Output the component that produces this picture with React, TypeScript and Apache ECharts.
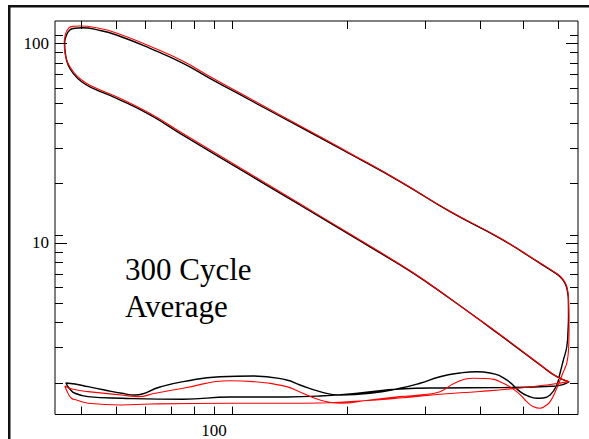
import React, { useEffect, useRef } from 'react';
import * as echarts from 'echarts';

// Axis ranges (log-log)
const X_MIN = 43.7;
const X_MAX = 666;
const Y_MIN = 1.384;
const Y_MAX = 129.3;

// Tick values
const X_MINOR_TICKS = [50, 60, 70, 80, 90, 110, 200, 300, 400, 500, 600];
const X_MAJOR_TICKS = [100];
const Y_MINOR_TICKS = [2, 3, 4, 5, 6, 7, 8, 9, 11, 20, 30, 40, 50, 60, 70, 80, 90, 110];
const Y_MAJOR_TICKS = [10, 100];

// Black curve (volume, pressure), one full cycle starting at BDC
const blackVolume = [
  635.7, 596.3, 546.7, 510.0, 443.7, 379.6, 297.6, 263.6, 203.2, 156.5, 120.6, 83.8, 71.7, 60.2, 53.3, 50.2, 48.05, 46.8, 46.17, 45.94, 46.25, 47.2, 48.5, 50.2,
  55.3, 60.2, 71.7, 85.2, 97.9, 120.6, 156.5, 203.2, 263.6, 342.0, 443.7, 546.7, 591.0, 606.6, 622.6, 630.8, 633.4, 633.9, 632.4, 628.1, 617.2, 606.6,
  596.3, 575.9, 555.3, 537.3, 513.4, 492.4, 459.4, 421.2, 393.0, 360.3, 324.6, 292.5, 263.6, 225.4, 192.8, 173.7, 156.5, 146.0, 122.7, 103.2, 85.2, 75.5, 66.3, 61.8, 56.6, 51.9, 48.5, 46.25,
  47.2, 48.5, 51.9, 61.8, 85.2, 108.7, 146.0, 173.7, 214.0, 263.6, 324.6, 443.7, 596.3, 635.7,
];
const blackPressure = [
  2.014, 2.14, 2.449, 2.749, 3.461, 4.46, 6.53, 7.76, 10.97, 15.5, 21.85, 35.4, 43.8, 53.0, 59.5, 64.2, 70.7, 77.8, 87.4, 100, 107.9, 116.6, 118.9, 119.7,
  115.9, 110.0, 94.4, 79.4, 66.8, 52.0, 38.1, 27.9, 20.3, 14.34, 10.55, 7.91, 7.08, 6.78, 6.28, 5.68, 5.18, 4.36, 3.667, 3.014, 2.595, 2.233,
  1.945, 1.734, 1.675, 1.669, 1.713, 1.801, 2.061, 2.233, 2.266, 2.233, 2.14, 1.984, 1.873, 1.768, 1.734, 1.801, 1.945, 2.061, 2.158, 2.14, 2.021, 1.901, 1.734, 1.768, 1.836, 1.908, 1.968, 1.991,
  1.858, 1.768, 1.7, 1.669, 1.65, 1.694, 1.694, 1.713, 1.774, 1.858, 1.879, 1.886, 1.923, 2.014,
];

// Red curve (volume, pressure), one full cycle starting at BDC
const redVolume = [
  636.5, 596.3, 546.7, 510.0, 443.7, 379.6, 297.6, 263.6, 203.2, 156.5, 120.6, 83.8, 71.7, 60.2, 53.3, 50.2, 48.05, 46.73, 46.09, 45.85, 46.09, 46.98, 48.24, 49.76,
  55.3, 60.2, 71.7, 85.2, 97.9, 120.6, 156.5, 203.2, 263.6, 342.0, 443.7, 546.7, 591.0, 606.6, 622.6, 630.8, 633.9, 635.7, 633.9, 629.1, 622.6, 617.2,
  596.3, 575.9, 561.1, 546.7, 527.0, 510.0, 484.0, 443.7, 410.4, 386.2, 351.0, 324.6, 292.5, 263.6, 225.4, 192.8, 173.7, 156.5, 146.0, 122.7, 108.7, 85.2, 73.56, 67.4, 61.8, 51.9, 47.72, 46.0,
  46.73, 47.6, 48.9, 51.9, 61.8, 71.7, 108.7, 146.0, 173.7, 214.0, 263.6, 324.6, 399.9, 492.4, 575.9, 636.5,
];
const redPressure = [
  2.021, 2.145, 2.464, 2.765, 3.481, 4.46, 6.565, 7.82, 11.09, 15.72, 22.21, 36.05, 44.5, 53.96, 60.56, 65.5, 72.25, 79.7, 88.4, 100.3, 110.0, 119.3, 121.7, 122.1,
  118.6, 112.6, 96.6, 81.3, 68.2, 52.9, 38.63, 28.17, 20.39, 14.42, 10.59, 7.94, 7.12, 6.82, 6.34, 5.815, 5.18, 3.667, 2.912, 2.536, 2.366, 2.266,
  1.873, 1.605, 1.527, 1.487, 1.518, 1.605, 1.801, 2.021, 2.096, 2.101, 1.991, 1.801, 1.734, 1.7, 1.636, 1.575, 1.636, 1.794, 1.908, 2.021, 2.044, 1.873, 1.768, 1.7, 1.734, 1.801, 1.858, 1.923,
  1.774, 1.669, 1.636, 1.575, 1.545, 1.563, 1.575, 1.575, 1.581, 1.618, 1.675, 1.748, 1.805, 1.879, 1.957, 2.021,
];

const SERIF = "Liberation Serif, Times New Roman, serif";

const isPow10 = (v: number) => {
  const l = Math.log10(v);
  return Math.abs(l - Math.round(l)) < 1e-6;
};

export default function App() {
  const ref = useRef<HTMLDivElement>(null);

  useEffect(() => {
    if (!ref.current) return;
    const chart = echarts.init(ref.current, null, { renderer: 'svg' });

    const black = blackVolume.map((v, i) => [v, blackPressure[i]]);
    const red = redVolume.map((v, i) => [v, redPressure[i]]);

    const tickData = [
      ...X_MINOR_TICKS.map((v) => [v, Y_MIN, 0]),
      ...X_MAJOR_TICKS.map((v) => [v, Y_MIN, 1]),
      ...Y_MINOR_TICKS.map((v) => [X_MIN, v, 2]),
      ...Y_MAJOR_TICKS.map((v) => [X_MIN, v, 3]),
    ];

    const tickStyle = { stroke: '#000', lineWidth: 1 };

    chart.setOption({
      animation: false,
      grid: {
        left: 55,
        top: 21,
        right: 11,
        bottom: 24.5,
        show: true,
        borderColor: '#000',
        borderWidth: 1,
        backgroundColor: 'transparent',
      },
      xAxis: {
        type: 'log',
        logBase: 10,
        min: X_MIN,
        max: X_MAX,
        axisLine: { show: false },
        axisTick: { show: false },
        splitLine: { show: false },
        axisLabel: {
          margin: 7,
          color: '#000',
          fontSize: 17,
          fontFamily: SERIF,
          formatter: (v: number) => (isPow10(v) ? String(Math.round(v)) : ''),
        },
      },
      yAxis: {
        type: 'log',
        logBase: 10,
        min: Y_MIN,
        max: Y_MAX,
        axisLine: { show: false },
        axisTick: { show: false },
        splitLine: { show: false },
        axisLabel: {
          margin: 6,
          color: '#000',
          fontSize: 17,
          fontFamily: SERIF,
          formatter: (v: number) => (isPow10(v) ? String(Math.round(v)) : ''),
        },
      },
      graphic: [
        {
          type: 'rect',
          silent: true,
          shape: { x: 9.25, y: 6.25, width: 700, height: 600 },
          style: { fill: 'transparent', stroke: '#111', lineWidth: 2.5 },
        },
        {
          type: 'text',
          x: 125,
          y: 269,
          silent: true,
          style: {
            text: '300 Cycle',
            fontSize: 31,
            fontFamily: SERIF,
            fill: '#000',
            verticalAlign: 'middle',
          },
        },
        {
          type: 'text',
          x: 125,
          y: 306.5,
          silent: true,
          style: {
            text: 'Average',
            fontSize: 31,
            fontFamily: SERIF,
            fill: '#000',
            verticalAlign: 'middle',
          },
        },
      ],
      series: [
        {
          type: 'custom',
          silent: true,
          clip: false,
          z: 5,
          encode: { x: 0, y: 1 },
          data: tickData,
          renderItem: (_params: any, api: any) => {
            const k = api.value(2);
            if (k < 2) {
              const xv = api.value(0);
              const pb = api.coord([xv, Y_MIN]);
              const pt = api.coord([xv, Y_MAX]);
              const len = 8;
              const x = Math.round(pb[0]) + 0.5;
              return {
                type: 'group',
                children: [
                  { type: 'line', shape: { x1: x, y1: pb[1], x2: x, y2: pb[1] - len }, style: tickStyle },
                  { type: 'line', shape: { x1: x, y1: pt[1], x2: x, y2: pt[1] + len }, style: tickStyle },
                ],
              };
            }
            const yv = api.value(1);
            const pl = api.coord([X_MIN, yv]);
            const pr = api.coord([X_MAX, yv]);
            const len = k === 3 ? 12 : 8;
            const y = Math.round(pl[1]) + 0.5;
            return {
              type: 'group',
              children: [
                { type: 'line', shape: { x1: pl[0], y1: y, x2: pl[0] + len, y2: y }, style: tickStyle },
                { type: 'line', shape: { x1: pr[0], y1: y, x2: pr[0] - len, y2: y }, style: tickStyle },
              ],
            };
          },
        },
        {
          type: 'line',
          data: black,
          showSymbol: false,
          symbol: 'none',
          smooth: 0.5,
          silent: true,
          z: 3,
          lineStyle: { color: '#000', width: 1.4 },
        },
        {
          type: 'line',
          data: red,
          showSymbol: false,
          symbol: 'none',
          smooth: 0.5,
          silent: true,
          z: 4,
          lineStyle: { color: '#ff0000', width: 1.1 },
        },
      ],
    });

    return () => chart.dispose();
  }, []);

  return (
    <div
      ref={ref}
      style={{ position: 'absolute', left: 0, top: 0, width: 589, height: 439 }}
    />
  );
}
